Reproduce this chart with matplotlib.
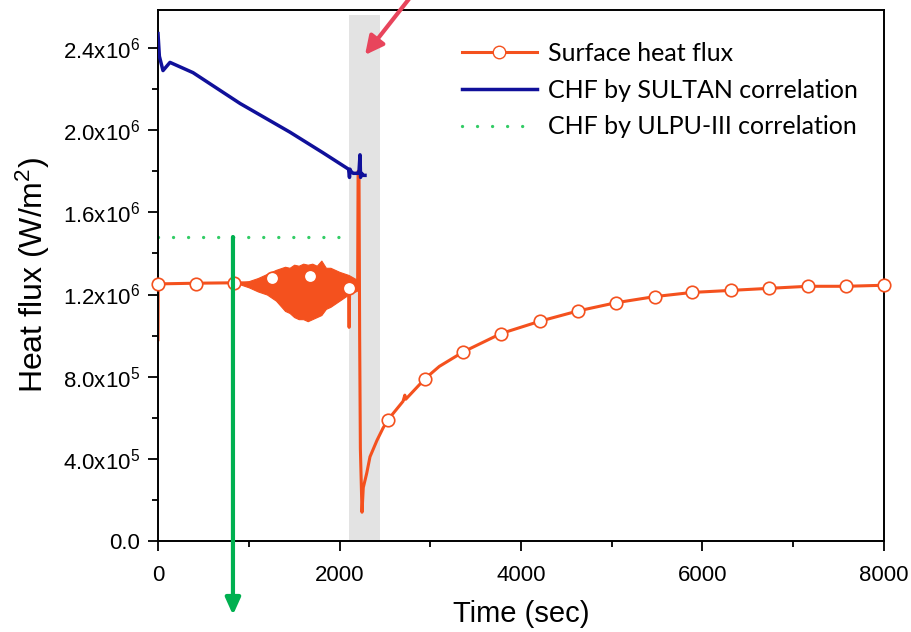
import numpy as np
import matplotlib
matplotlib.use("Agg")
import matplotlib.pyplot as plt
from matplotlib.lines import Line2D

plt.rcParams['font.family'] = ['Liberation Sans', 'DejaVu Sans']
plt.rcParams['mathtext.fontset'] = 'custom'
plt.rcParams['mathtext.rm'] = 'Liberation Sans'

# surface heat flux (W/m2), time in sec
flux_t = [0, 2, 10, 50, 420, 840, 900, 2100, 2106, 2112, 2120, 2200, 2205, 2215, 2222, 2230, 2248,
          2262, 2300, 2336, 2413, 2480, 2534, 2700, 2720, 2730, 2942, 3100, 3361, 3780, 4209, 4628,
          5047, 5477, 5884, 6314, 6733, 7163, 7581, 8000]
flux_q = [0.98e6, 1.24e6, 1.25e6, 1.252e6, 1.255e6, 1.257e6, 1.257e6, 1.23e6, 1.04e6, 1.24e6, 1.26e6,
          1.26e6, 1.80e6, 1.78e6, 1.00e6, 0.45e6, 0.14e6,
          0.26e6, 0.33e6, 0.41e6, 0.49e6, 0.55e6, 0.59e6, 0.68e6, 0.71e6, 0.69e6, 0.79e6, 0.85e6,
          0.92e6, 1.01e6, 1.07e6, 1.12e6, 1.16e6, 1.19e6, 1.21e6, 1.22e6, 1.23e6, 1.24e6, 1.24e6,
          1.245e6]

# oscillation envelope before CHF
osc_t = [900, 1000, 1100, 1200, 1300, 1400, 1450, 1500, 1550, 1600, 1650, 1700, 1750, 1800,
         1850, 1900, 2000, 2100, 2200]
osc_hi = [1.26e6, 1.265e6, 1.28e6, 1.30e6, 1.32e6, 1.335e6, 1.33e6, 1.345e6, 1.34e6, 1.35e6,
          1.345e6, 1.35e6, 1.34e6, 1.365e6, 1.33e6, 1.33e6, 1.31e6, 1.295e6, 1.27e6]
osc_lo = [1.25e6, 1.235e6, 1.215e6, 1.20e6, 1.17e6, 1.12e6, 1.11e6, 1.09e6, 1.08e6, 1.08e6,
          1.07e6, 1.08e6, 1.09e6, 1.10e6, 1.13e6, 1.14e6, 1.17e6, 1.20e6, 1.22e6]

mk_t = [0, 420, 840, 1260, 1680, 2100, 2534, 2942, 3361, 3780, 4209, 4628, 5047, 5477, 5884,
        6314, 6733, 7163, 7581, 8000]
mk_q = [1.25e6, 1.25e6, 1.255e6, 1.28e6, 1.29e6, 1.23e6, 0.59e6, 0.79e6, 0.92e6, 1.01e6, 1.07e6,
        1.12e6, 1.16e6, 1.19e6, 1.21e6, 1.22e6, 1.23e6, 1.24e6, 1.24e6, 1.245e6]

# CHF by SULTAN
sultan_t = [0, 15, 55, 132, 386, 904, 1455, 1818, 2100, 2110, 2116, 2125, 2150, 2200, 2215,
            2226, 2232, 2245, 2260, 2281]
sultan_q = [2.47e6, 2.36e6, 2.29e6, 2.33e6, 2.28e6, 2.13e6, 1.99e6, 1.89e6, 1.81e6, 1.77e6,
            1.81e6, 1.80e6, 1.79e6, 1.79e6, 1.80e6, 1.88e6, 1.77e6, 1.79e6, 1.78e6, 1.78e6]

# CHF by ULPU-III
ulpu_t = [0, 2110]
ulpu_q = [1.48e6, 1.48e6]

band = [2105, 2446]
arrow_t = 826

yticks = [0, 0.4e6, 0.8e6, 1.2e6, 1.6e6, 2.0e6, 2.4e6]
ylabels = ['0.0', r'$\mathregular{4.0x10^{5}}$', r'$\mathregular{8.0x10^{5}}$',
           r'$\mathregular{1.2x10^{6}}$', r'$\mathregular{1.6x10^{6}}$',
           r'$\mathregular{2.0x10^{6}}$', r'$\mathregular{2.4x10^{6}}$']
xticks = [0, 2000, 4000, 6000, 8000]

orange = '#f4511e'
blue = '#10109a'
green = '#33cc66'
dots = (0, (0.01, 4.5))

fig = plt.figure(figsize=(9.12, 6.32), dpi=100)
ax = fig.add_axes([158/912, 91/632, 726/912, 531/632])

ax.axvspan(band[0], band[1], ymin=0, ymax=0.99, color='#e3e3e3', zorder=0, lw=0)

ax.fill_between(osc_t, osc_lo, osc_hi, color=orange, lw=0.8, edgecolor=orange, zorder=2)
ax.plot(flux_t, flux_q, '-', color=orange, lw=2.2, zorder=2)
ax.plot(mk_t, mk_q, 'o', ms=9, mfc='white', mec=orange, mew=1.2, zorder=3, clip_on=False)
ax.plot(sultan_t, sultan_q, '-', color=blue, lw=2.5, zorder=4)
ax.plot(ulpu_t, ulpu_q, color=green, lw=2.4, ls=dots, dash_capstyle='round', zorder=2)

ax.set_xlim(0, 8000)
ax.set_ylim(0, 2.585e6)
ax.set_xticks(xticks)
ax.set_xticklabels([str(x) for x in xticks])
ax.set_xticks([1000, 3000, 5000, 7000], minor=True)
ax.set_yticks(yticks)
ax.set_yticklabels(ylabels)
ax.set_yticks([0.2e6, 0.6e6, 1.0e6, 1.4e6, 1.8e6, 2.2e6], minor=True)
ax.tick_params(which='major', direction='out', length=7, width=1.3, labelsize=16)
ax.tick_params(axis='x', which='major', pad=10)
ax.tick_params(axis='y', which='major', pad=6)
ax.tick_params(which='minor', direction='out', length=4, width=1.3)
for s in ax.spines.values():
    s.set_linewidth(1.4)

ax.set_xlabel('Time (sec)', fontsize=21, labelpad=10)
ax.set_ylabel(r'Heat flux (W/m$\mathregular{^2}$)', fontsize=23, labelpad=8)

handles = [Line2D([], [], color=orange, lw=2.2, marker='o', ms=9, mfc='white', mec=orange),
           Line2D([], [], color=blue, lw=2.5),
           Line2D([], [], color=green, lw=2.4, ls=dots, dash_capstyle='round')]
labels = ['Surface heat flux', 'CHF by SULTAN correlation', 'CHF by ULPU-III correlation']
ax.legend(handles, labels, loc='upper left', bbox_to_anchor=(462/912, 1 - 42/632),
          bbox_transform=fig.transFigure, frameon=False, borderpad=0,
          prop={'family': 'Lato', 'size': 18},
          borderaxespad=0, handlelength=3.0, handletextpad=0.45, labelspacing=0.55)

# green arrow going down out of the axes
ax.annotate('', xy=(arrow_t, -0.36e6), xytext=(arrow_t, 1.48e6), xycoords='data',
            annotation_clip=False,
            arrowprops=dict(arrowstyle='-|>,head_length=1.0,head_width=0.45', color='#00b050',
                            lw=3, shrinkA=0, shrinkB=0))

# red arrow pointing to the band
ax.annotate('', xy=(365, 632 - 55), xytext=(416, 642), xycoords='figure pixels',
            textcoords='figure pixels', annotation_clip=False,
            arrowprops=dict(arrowstyle='-|>,head_length=1.1,head_width=0.55', color='#e8455c',
                            lw=3, shrinkA=0, shrinkB=0))

fig.savefig('out.png', dpi=100)
